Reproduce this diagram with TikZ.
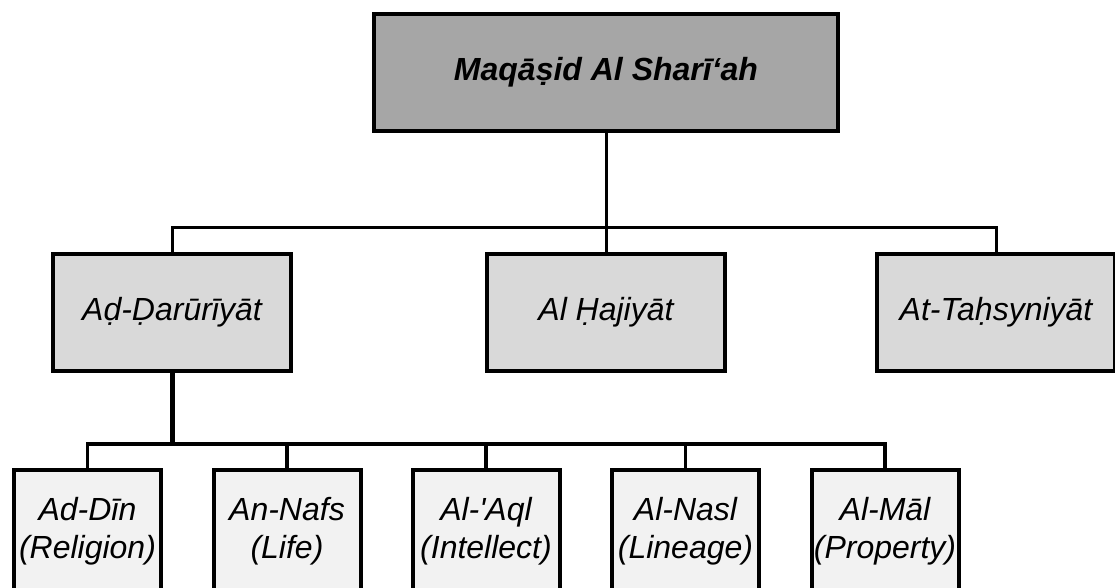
\documentclass[tikz,border=0pt]{standalone}
\usepackage{fontspec}
\setmainfont{Liberation Sans}
\definecolor{topgray}{HTML}{A6A6A6}
\definecolor{midgray}{HTML}{D9D9D9}
\definecolor{leafgray}{HTML}{F2F2F2}
\begin{document}
\begin{tikzpicture}[x=0.75pt,y=-0.75pt,
  box/.style={draw=black, line width=3pt, inner sep=0pt, align=center,
    font=\fontsize{24}{28.5}\selectfont\itshape},
  topbox/.style={box, fill=topgray, minimum width=348pt, minimum height=87.75pt,
    font=\fontsize{24}{28}\selectfont\bfseries\itshape},
  midbox/.style={box, fill=midgray, minimum width=178.5pt, minimum height=87.75pt},
  leafbox/.style={box, fill=leafgray, minimum width=110.25pt, minimum height=91.5pt},
  link/.style={draw=black, line width=2.25pt},
  stem/.style={draw=black, line width=3.75pt},
  leaflink/.style={draw=black, line width=2.6pt}]
\useasboundingbox (0,0) rectangle (1115,587);
\clip (0,0) rectangle (1115,587);

% top
\node[topbox] (top) at (606,72.5) {Maqāṣid Al Sharī‘ah};

% middle row
\node[midbox] (dar) at (172,312.5) {Aḍ-Ḍarūrīyāt};
\node[midbox] (haj) at (606,312.5) {Al Ḥajiyāt};
\node[midbox] (tah) at (996,312.5) {At-Taḥsyniyāt};

% bottom row
\node[leafbox] (din)  at (87.5,531)  {Ad-Dīn\\(Religion)};
\node[leafbox] (nafs) at (287,531)   {An-Nafs\\(Life)};
\node[leafbox] (aql)  at (486,531)   {Al-\textquotesingle Aql\\(Intellect)};
\node[leafbox] (nasl) at (685.5,531) {Al-Nasl\\(Lineage)};
\node[leafbox] (mal)  at (885,531)   {Al-Māl\\(Property)};

% junction points
\coordinate (j1) at (606,227);
\coordinate (j2) at (172,444);

% connectors top -> middle
\draw[link] (top.south) -- (j1);
\draw[link] (dar.north) |- (j1) -| (tah.north);
\draw[link] (haj.north) -- (j1);

% connectors dar -> leaves
\draw[stem] (dar.south) -- (j2);
\draw[leaflink] (din.north) |- (j2) -| (mal.north);
\draw[leaflink] (nafs.north) -- (nafs.north |- j2);
\draw[leaflink] (aql.north) -- (aql.north |- j2);
\draw[leaflink] (nasl.north) -- (nasl.north |- j2);
\end{tikzpicture}
\end{document}
